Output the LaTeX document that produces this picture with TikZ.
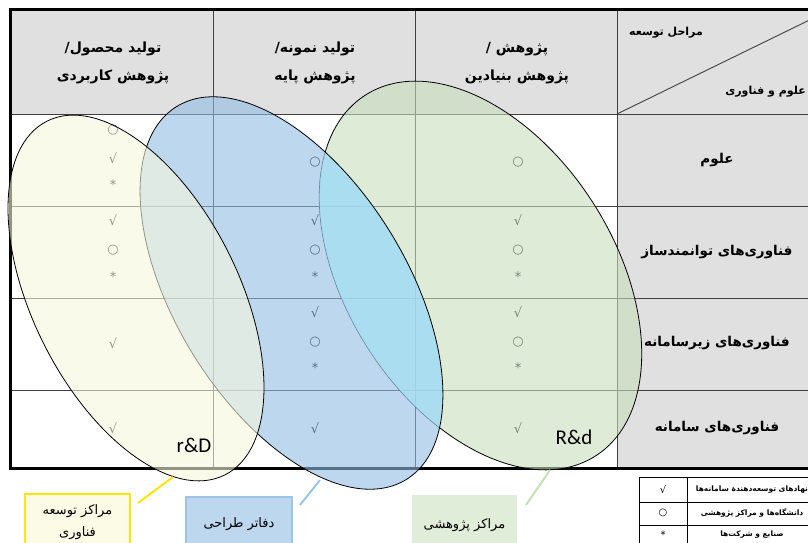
\documentclass[tikz,border=0pt]{standalone}
\usepackage{fontspec}
\TeXXeTstate=1
\newfontfamily\fafont[Script=Arabic]{DejaVu Sans}
\newfontfamily\symfont{DejaVu Sans}
\newfontfamily\latfont{Carlito}
\newcommand\rl[1]{\beginR#1\endR}
\definecolor{hdrgray}{HTML}{E0E0E0}
\definecolor{gridcol}{HTML}{404040}
\definecolor{ylwfill}{HTML}{F7F7DE}
\definecolor{bluefill}{HTML}{91BCE3}
\definecolor{grnfill}{HTML}{C6DEBC}
\definecolor{cyanmix}{HTML}{A8E8FF}
\definecolor{ylwline}{HTML}{FFE500}
\definecolor{blueline}{HTML}{9DC3E6}
\definecolor{grnline}{HTML}{C5E0B4}
\definecolor{boxyellow}{HTML}{FCFCE6}
\definecolor{boxblue}{HTML}{BDD7EE}
\definecolor{boxgreen}{HTML}{E0EDD8}

\begin{document}
\begin{tikzpicture}[x=1pt,y=-1pt,
  hdr/.style={font=\fafont\bfseries\fontsize{14}{28}\selectfont,align=center},
  rowlbl/.style={font=\fafont\bfseries\fontsize{13.5}{16}\selectfont},
  cornerlbl/.style={font=\fafont\bfseries\fontsize{11}{13}\selectfont,inner sep=0pt},
  sgn/.style={font=\symfont\fontsize{13}{13}\selectfont,inner sep=0pt},
  gridln/.style={gridcol,line width=0.9pt},
  tblframe/.style={black,line width=3pt,line join=miter},
  oval/.style={draw=black,line width=0.8pt,fill opacity=0.6},
  grnpos/.style={shift={(480.5,275.5)},rotate=-57.5},
  bluepos/.style={shift={(291.5,293)},rotate=-58.4},
  ylwpos/.style={shift={(136,298)},rotate=-63.3},
  tag/.style={font=\fafont\fontsize{13}{22}\selectfont,align=center,anchor=north,inner sep=0pt,minimum width=105pt},
  rd/.style={font=\latfont\fontsize{21}{21}\selectfont,inner sep=0pt},
  lgd/.style={font=\fafont\bfseries\fontsize{7.5}{9}\selectfont,inner sep=0pt},
  lgdsym/.style={font=\symfont\fontsize{10}{10}\selectfont,inner sep=0pt},
]
\useasboundingbox (0,0) rectangle (808,543);
\clip (0,0) rectangle (808,543);

% table
\fill[hdrgray] (10,10) rectangle (830,114);
\fill[hdrgray] (617,114) rectangle (830,468);
\foreach \y in {114,206,298,390}
  \draw[gridln] (10,\y) -- (830,\y);
\foreach \x in {213,415,617}
  \draw[gridln] (\x,10) -- (\x,468);
\draw[gridln] (617,114) -- (830,10);
\draw[tblframe] (830,10) -- (10,10) -- (10,468) -- (830,468);

\node[hdr] (colA) at (113,63) {\rl{تولید محصول/}\\\rl{پژوهش کاربردی}};
\node[hdr] (colB) at (315,63) {\rl{تولید نمونه/}\\\rl{پژوهش پایه}};
\node[hdr] (colC) at (517,63) {\rl{پژوهش /}\\\rl{پژوهش بنیادین}};
\node[cornerlbl] (stage) at (666,33) {\rl{مراحل توسعه}};
\node[cornerlbl,anchor=east] (field) at (806,92) {\rl{علوم و فناوری}};

\foreach \t/\y [count=\i] in {علوم/160,فناوری‌های توانمندساز/252,فناوری‌های زیرسامانه/343,فناوری‌های سامانه/428}
  \node[rowlbl] (row\i) at (717,\y) {\rl{\t}};

% signs in the cells
\foreach \s/\x/\y [count=\i] in {
  ○/113/130, √/113/158, */113/185, √/113/220, ○/113/250, */113/277, √/113/343, √/113/428,
  ○/315/162, √/315/220, ○/315/250, */315/277, √/315/312, ○/315/342, */315/368, √/315/428,
  ○/518/162, √/518/220, ○/518/250, */518/277, √/518/312, ○/518/342, */518/368, √/518/428}
  \node[sgn] (sgn\i) at (\x,\y) {\s};

% the three areas
\filldraw[oval,fill=grnfill,grnpos] (0,0) ellipse [x radius=214,y radius=134];
\fill[bluefill,fill opacity=0.6,bluepos] (0,0) ellipse [x radius=219,y radius=116];
\begin{scope}
  \clip[grnpos] (0,0) ellipse [x radius=214,y radius=134];
  \fill[cyanmix,fill opacity=0.6,bluepos] (0,0) ellipse [x radius=219,y radius=116];
\end{scope}
\draw[black,line width=0.8pt,bluepos] (0,0) ellipse [x radius=219,y radius=116];
\filldraw[oval,fill=ylwfill,ylwpos] (0,0) ellipse [x radius=198,y radius=103];

\node[rd] (rD) at (194,445) {r\&D};
\node[rd] (Rd) at (574,437) {R\&d};

% labels
\node[tag,draw=ylwline,line width=2pt,fill=boxyellow,minimum height=56pt] (lblY) at (77.5,493) {\rl{مراکز توسعه}\\\rl{فناوری}};
\node[tag,draw=blueline,line width=1.5pt,fill=boxblue,minimum height=54pt,minimum width=106pt] (lblB) at (239,496) {\rl{دفاتر طراحی}};
\node[tag,fill=boxgreen,minimum height=60pt] (lblG) at (464.5,495) {\rl{مراکز پژوهشی}};
\coordinate (yA) at (138,503); \coordinate (yB) at (173,477);
\coordinate (bA) at (300,505); \coordinate (bB) at (320,480);
\coordinate (gA) at (526,505); \coordinate (gB) at (550,470);
\draw[ylwline,line width=2pt] (yA) -- (yB);
\draw[blueline,line width=2pt] (bA) -- (bB);
\draw[grnline,line width=2pt] (gA) -- (gB);

% legend
\draw[black,line width=0.9pt] (639,477) rectangle (830,560);
\draw[black,line width=0.9pt] (687,477) -- (687,560);
\draw[black,line width=0.9pt] (639,502) -- (830,502) (639,525) -- (830,525);
\foreach \s/\t/\y [count=\i] in {√/نهادهای توسعه‌دهندهٔ سامانه‌ها/490,○/دانشگاه‌ها و مراکز پژوهشی/513,*/صنایع و شرکت‌ها/535}
{
  \node[lgdsym] (key\i) at (663,\y) {\s};
  \node[lgd] (txt\i) at (752,\y) {\rl{\t}};
}
\end{tikzpicture}
\end{document}
